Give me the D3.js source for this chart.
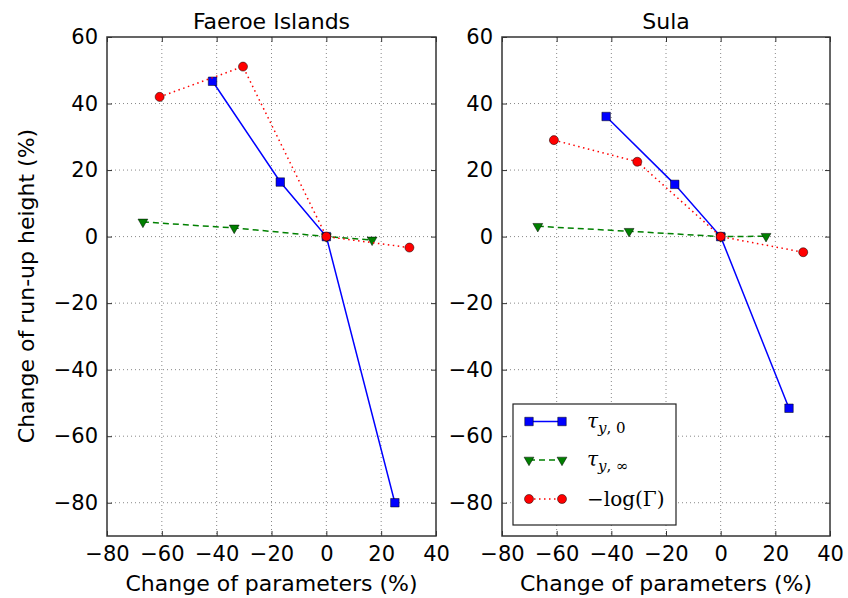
<!DOCTYPE html>
<html>
<head>
<meta charset="utf-8">
<script src="https://cdn.jsdelivr.net/npm/d3@7/dist/d3.min.js"></script>
<style>
  body { margin: 0; background: #fff; }
  svg { display: block; }
  text { font-family: "DejaVu Sans", sans-serif; fill: #000; }
</style>
</head>
<body>
<svg id="chart" width="848" height="598"></svg>
<script>
// Sensitivity of run-up height to parameter changes (%)
const xTicks = [-80, -60, -40, -20, 0, 20, 40];
const yTicks = [-80, -60, -40, -20, 0, 20, 40, 60];

const faeroeTau0X = [-41.5, -16.8, 0, 25];
const faeroeTau0Y = [46.7, 16.4, 0, -80];
const faeroeTauInfX = [-66.9, -33.6, 0, 16.7];
const faeroeTauInfY = [4.4, 2.6, 0, -1.0];
const faeroeGammaX = [-60.8, -30.4, 0, 30.3];
const faeroeGammaY = [42.0, 51.1, 0, -3.3];

const sulaTau0X = [-41.9, -16.8, 0, 25];
const sulaTau0Y = [36.1, 15.7, 0, -51.6];
const sulaTauInfX = [-66.9, -33.5, 0, 16.6];
const sulaTauInfY = [3.1, 1.6, 0, 0.1];
const sulaGammaX = [-61, -30.5, 0, 30.2];
const sulaGammaY = [29.0, 22.5, 0, -4.7];

const panelTitles = ["Faeroe Islands", "Sula"];

const svg = d3.select("#chart");

const seriesStyle = [
  { color: "#0000ff", dash: null, symbol: d3.symbolSquare, size: 72, rot: 0 },
  { color: "#008000", dash: "6,4", symbol: d3.symbolTriangle, size: 42, rot: 180 },
  { color: "#ff0000", dash: "1.5,3.5", symbol: d3.symbolCircle, size: 64, rot: 0 }
];

const panels = [
  { left: 107, right: 436, title: panelTitles[0],
    series: [[faeroeTau0X, faeroeTau0Y], [faeroeTauInfX, faeroeTauInfY], [faeroeGammaX, faeroeGammaY]] },
  { left: 502, right: 830, title: panelTitles[1],
    series: [[sulaTau0X, sulaTau0Y], [sulaTauInfX, sulaTauInfY], [sulaGammaX, sulaGammaY]] }
];
const plotTop = 37, plotBottom = 536;

panels.forEach((p, pi) => {
  const x = d3.scaleLinear().domain([-80, 40]).range([p.left, p.right]);
  const y = d3.scaleLinear().domain([-90, 60]).range([plotBottom, plotTop]);
  const g = svg.append("g");

  // dotted grid
  g.selectAll(".gx").data(xTicks.slice(1, -1)).enter().append("line")
    .attr("x1", d => x(d)).attr("x2", d => x(d))
    .attr("y1", plotTop).attr("y2", plotBottom)
    .attr("stroke", "#888").attr("stroke-width", 1).attr("stroke-dasharray", "1,3");
  g.selectAll(".gy").data(yTicks.filter(v => v < 60)).enter().append("line")
    .attr("x1", p.left).attr("x2", p.right)
    .attr("y1", d => y(d)).attr("y2", d => y(d))
    .attr("stroke", "#888").attr("stroke-width", 1).attr("stroke-dasharray", "1,3");

  // axes with inward ticks on all sides
  const fmt = d => d < 0 ? "\u2212" + Math.abs(d) : d;
  const axB = g.append("g").attr("transform", `translate(0,${plotBottom})`)
    .call(d3.axisBottom(x).tickValues(xTicks).tickSize(-5).tickPadding(10).tickFormat(fmt));
  const axL = g.append("g").attr("transform", `translate(${p.left},0)`)
    .call(d3.axisLeft(y).tickValues(yTicks).tickSize(-5).tickPadding(9).tickFormat(fmt));
  const axT = g.append("g").attr("transform", `translate(0,${plotTop})`)
    .call(d3.axisTop(x).tickValues(xTicks).tickSize(-5).tickFormat(""));
  const axR = g.append("g").attr("transform", `translate(${p.right},0)`)
    .call(d3.axisRight(y).tickValues(yTicks).tickSize(-5).tickFormat(""));
  [axB, axL, axT, axR].forEach(a => {
    a.select(".domain").remove();
    a.selectAll(".tick line").attr("stroke", "#333").attr("stroke-width", 1);
    a.selectAll("text").style("font-size", "21px").attr("fill", "#111");
  });

  g.append("rect").attr("x", p.left).attr("y", plotTop)
    .attr("width", p.right - p.left).attr("height", plotBottom - plotTop)
    .attr("fill", "none").attr("stroke", "#333").attr("stroke-width", 1.5);

  // series lines and markers
  p.series.forEach((s, si) => {
    const st = seriesStyle[si];
    const pts = s[0].map((v, i) => [v, s[1][i]]);
    g.append("path").datum(pts)
      .attr("d", d3.line().x(d => x(d[0])).y(d => y(d[1])))
      .attr("fill", "none").attr("stroke", st.color).attr("stroke-width", 1.5)
      .attr("stroke-dasharray", st.dash);
    g.selectAll(null).data(pts).enter().append("path")
      .attr("d", d3.symbol().type(st.symbol).size(st.size))
      .attr("transform", d => `translate(${x(d[0])},${y(d[1])}) rotate(${st.rot})`)
      .attr("fill", st.color).attr("stroke", "#000").attr("stroke-width", 0.5);
  });

  g.append("text").attr("x", (p.left + p.right) / 2).attr("y", 29)
    .attr("text-anchor", "middle").style("font-size", "22px").text(p.title);
  g.append("text").attr("x", (p.left + p.right) / 2).attr("y", 591)
    .attr("text-anchor", "middle").style("font-size", "22px").text("Change of parameters (%)");

  // legend in the second panel
  if (pi === 1) {
    const lg = svg.append("g");
    lg.append("rect").attr("x", 513).attr("y", 404).attr("width", 163).attr("height", 121)
      .attr("fill", "#fff").attr("stroke", "#222").attr("stroke-width", 1.2);
    const rows = [421.5, 460, 499];
    rows.forEach((ry, i) => {
      const st = seriesStyle[i];
      lg.append("line").attr("x1", 529).attr("x2", 562).attr("y1", ry).attr("y2", ry)
        .attr("stroke", st.color).attr("stroke-width", 1.5).attr("stroke-dasharray", st.dash);
      [529, 562].forEach(mx => {
        lg.append("path").attr("d", d3.symbol().type(st.symbol).size(st.size))
          .attr("transform", `translate(${mx},${ry}) rotate(${st.rot})`)
          .attr("fill", st.color).attr("stroke", "#000").attr("stroke-width", 0.5);
      });
    });
    const serif = "'DejaVu Serif', 'Liberation Serif', serif";
    const t1 = lg.append("text").attr("x", 587).attr("y", 428).style("font-family", serif).style("font-size", "20px");
    t1.append("tspan").style("font-style", "italic").text("\u03c4");
    t1.append("tspan").attr("dy", 5).style("font-size", "15px").style("font-style", "italic").text("y");
    t1.append("tspan").style("font-size", "15px").text(", 0");
    const t2 = lg.append("text").attr("x", 587).attr("y", 466).style("font-family", serif).style("font-size", "20px");
    t2.append("tspan").style("font-style", "italic").text("\u03c4");
    t2.append("tspan").attr("dy", 5).style("font-size", "15px").style("font-style", "italic").text("y");
    t2.append("tspan").style("font-size", "15px").text(", \u221e");
    lg.append("text").attr("x", 587).attr("y", 506).style("font-family", serif).style("font-size", "20px")
      .text("\u2212log(\u0393)");
  }
});

svg.append("text").attr("transform", "translate(34,286) rotate(-90)")
  .attr("text-anchor", "middle").style("font-size", "22px").text("Change of run-up height (%)");
</script>
</body>
</html>
